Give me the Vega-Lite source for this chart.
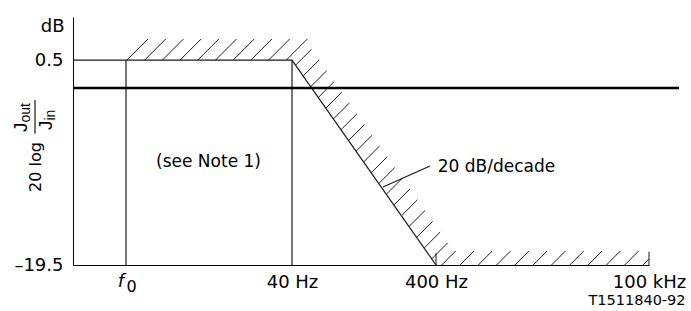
{
  "$schema": "https://vega.github.io/schema/vega-lite/v6.json",
  "width": 576,
  "height": 248,
  "autosize": {"type": "none"},
  "padding": {"left": 73, "top": 17, "right": 42, "bottom": 46},
  "background": "white",
  "config": {"view": {"stroke": null}, "axis": {"grid": false}},
  "encoding": {
    "x": {
      "field": "x", "type": "quantitative",
      "scale": {"domain": [0, 576], "nice": false, "zero": false},
      "axis": {
        "values": [53, 219, 363, 576],
        "labelExpr": "datum.value==219?'40 Hz':datum.value==363?'400 Hz':datum.value==576?'100 kHz':''",
        "ticks": false, "tickSize": 0, "labelPadding": 22, "labelBaseline": "alphabetic",
        "labelFont": "DejaVu Sans", "labelFontSize": 18, "labelColor": "black",
        "domainColor": "black", "domainWidth": 1, "labelFlush": false, "labelOverlap": false, "labelBound": false,
        "title": null, "grid": false
      }
    },
    "y": {
      "field": "y", "type": "quantitative",
      "scale": {"domain": [-19.5, 4.7], "nice": false, "zero": false},
      "axis": {
        "values": [0.5, -19.5],
        "labelExpr": "datum.value==0.5?'0.5':'–19.5'",
        "ticks": false, "tickSize": 0, "labelPadding": 10,
        "labelFont": "DejaVu Sans", "labelFontSize": 18, "labelColor": "black",
        "domainColor": "black", "domainWidth": 1, "labelOverlap": false, "labelBound": false, "labelFlush": false,
        "title": "dB", "titleAngle": 0, "titleAlign": "right", "titleBaseline": "alphabetic",
        "titleX": -9, "titleY": 14, "titleFont": "DejaVu Sans", "titleFontSize": 18,
        "titleFontWeight": "normal", "titleColor": "black", "grid": false
      }
    }
  },
  "layer": [
    {
      "data": {"values": [
        {"x": 0, "y": 0.5, "x2": 219, "y2": 0.5},
        {"x": 53, "y": 0.5, "x2": 53, "y2": -19.5},
        {"x": 219, "y": 0.5, "x2": 219, "y2": -19.5},
        {"x": 219, "y": 0.5, "x2": 363, "y2": -19.5},
        {"x": 357, "y": -9.84, "x2": 310, "y2": -11.89},
        {"x": -38, "y": -3.4, "x2": -38, "y2": -6.7}
      ]},
      "mark": {"type": "rule", "color": "#1a1a1a", "strokeWidth": 1.2},
      "encoding": {"x2": {"field": "x2"}, "y2": {"field": "y2"}}
    },
    {
      "data": {"values": [
        {"x": 0, "y": -2.23, "x2": 606, "y2": -2.23}
      ]},
      "mark": {"type": "rule", "color": "black", "strokeWidth": 2.6},
      "encoding": {"x2": {"field": "x2"}, "y2": {"field": "y2"}}
    },
    {
      "data": {"values": [
        {"x": 54, "y": 0.5, "x2": 75, "y2": 2.55},
        {"x": 71.7, "y": 0.5, "x2": 92.7, "y2": 2.55},
        {"x": 89.4, "y": 0.5, "x2": 110.4, "y2": 2.55},
        {"x": 107.1, "y": 0.5, "x2": 128.1, "y2": 2.55},
        {"x": 124.8, "y": 0.5, "x2": 145.8, "y2": 2.55},
        {"x": 142.5, "y": 0.5, "x2": 163.5, "y2": 2.55},
        {"x": 160.2, "y": 0.5, "x2": 181.2, "y2": 2.55},
        {"x": 177.9, "y": 0.5, "x2": 198.9, "y2": 2.55},
        {"x": 195.6, "y": 0.5, "x2": 216.6, "y2": 2.55},
        {"x": 213.3, "y": 0.5, "x2": 234.3, "y2": 2.55},
        {"x": 222.6, "y": 0, "x2": 238.6, "y2": 1.56},
        {"x": 230.2, "y": -1.05, "x2": 246.2, "y2": 0.51},
        {"x": 237.7, "y": -2.1, "x2": 253.7, "y2": -0.54},
        {"x": 245.3, "y": -3.15, "x2": 261.3, "y2": -1.59},
        {"x": 252.8, "y": -4.2, "x2": 268.8, "y2": -2.64},
        {"x": 260.4, "y": -5.25, "x2": 276.4, "y2": -3.69},
        {"x": 268.0, "y": -6.3, "x2": 284.0, "y2": -4.74},
        {"x": 275.5, "y": -7.35, "x2": 291.5, "y2": -5.79},
        {"x": 283.1, "y": -8.4, "x2": 299.1, "y2": -6.84},
        {"x": 290.6, "y": -9.45, "x2": 306.6, "y2": -7.89},
        {"x": 298.2, "y": -10.5, "x2": 314.2, "y2": -8.94},
        {"x": 305.8, "y": -11.55, "x2": 321.8, "y2": -9.99},
        {"x": 313.3, "y": -12.6, "x2": 329.3, "y2": -11.04},
        {"x": 320.9, "y": -13.65, "x2": 336.9, "y2": -12.09},
        {"x": 328.4, "y": -14.7, "x2": 344.4, "y2": -13.14},
        {"x": 336.0, "y": -15.75, "x2": 352.0, "y2": -14.19},
        {"x": 343.6, "y": -16.8, "x2": 359.6, "y2": -15.24},
        {"x": 351.1, "y": -17.85, "x2": 367.1, "y2": -16.29},
        {"x": 358.7, "y": -18.9, "x2": 374.7, "y2": -17.34},
        {"x": 363, "y": -19.5, "x2": 363, "y2": -18.33},
        {"x": 368.7, "y": -19.5, "x2": 382.7, "y2": -18.13},
        {"x": 387.0, "y": -19.5, "x2": 401.0, "y2": -18.13},
        {"x": 405.3, "y": -19.5, "x2": 419.3, "y2": -18.13},
        {"x": 423.6, "y": -19.5, "x2": 437.6, "y2": -18.13},
        {"x": 441.9, "y": -19.5, "x2": 455.9, "y2": -18.13},
        {"x": 460.2, "y": -19.5, "x2": 474.2, "y2": -18.13},
        {"x": 478.5, "y": -19.5, "x2": 492.5, "y2": -18.13},
        {"x": 496.8, "y": -19.5, "x2": 510.8, "y2": -18.13},
        {"x": 515.1, "y": -19.5, "x2": 529.1, "y2": -18.13},
        {"x": 533.4, "y": -19.5, "x2": 547.4, "y2": -18.13},
        {"x": 551.7, "y": -19.5, "x2": 565.7, "y2": -18.13},
        {"x": 570.0, "y": -19.5, "x2": 576.0, "y2": -18.91},
        {"x": 576, "y": -19.5, "x2": 576, "y2": -18.2}
      ]},
      "mark": {"type": "rule", "color": "#1a1a1a", "strokeWidth": 1},
      "encoding": {"x2": {"field": "x2"}, "y2": {"field": "y2"}}
    },
    {
      "data": {"values": [
        {"x": 135.5, "y": -9.91, "t": "(see Note 1)"},
        {"x": 423.5, "y": -10.43, "t": "20 dB/decade"}
      ]},
      "mark": {"type": "text", "font": "DejaVu Sans", "fontSize": 17, "color": "black", "align": "center", "baseline": "alphabetic"},
      "encoding": {"text": {"field": "t"}}
    },
    {
      "data": {"values": [
        {"x": 564, "y": -23.45, "t": "T1511840-92"}
      ]},
      "mark": {"type": "text", "font": "DejaVu Sans", "fontSize": 14.5, "color": "black", "align": "center", "baseline": "alphabetic"},
      "encoding": {"text": {"field": "t"}}
    },
    {
      "data": {"values": [
        {"x": 48, "y": -21.65, "t": "f"}
      ]},
      "mark": {"type": "text", "font": "DejaVu Sans", "fontSize": 18, "fontStyle": "italic", "color": "black", "align": "center", "baseline": "alphabetic"},
      "encoding": {"text": {"field": "t"}}
    },
    {
      "data": {"values": [
        {"x": 58.5, "y": -22.13, "t": "0"}
      ]},
      "mark": {"type": "text", "font": "DejaVu Sans", "fontSize": 16, "color": "black", "align": "center", "baseline": "alphabetic"},
      "encoding": {"text": {"field": "t"}}
    },
    {
      "data": {"values": [
        {"x": -37, "y": -9.94, "t": "20 log"}
      ]},
      "mark": {"type": "text", "font": "DejaVu Sans", "fontSize": 16, "color": "black", "align": "center", "baseline": "middle", "angle": 270},
      "encoding": {"text": {"field": "t"}}
    },
    {
      "data": {"values": [
        {"x": -46.4, "y": -6.52, "t": "J"},
        {"x": -21, "y": -6.33, "t": "J"}
      ]},
      "mark": {"type": "text", "font": "Liberation Sans", "fontSize": 19, "color": "black", "align": "left", "baseline": "alphabetic", "angle": 270},
      "encoding": {"text": {"field": "t"}}
    },
    {
      "data": {"values": [
        {"x": -43, "y": -5.6, "t": "out"},
        {"x": -18, "y": -5.4, "t": "in"}
      ]},
      "mark": {"type": "text", "font": "Liberation Sans", "fontSize": 14, "color": "black", "align": "left", "baseline": "alphabetic", "angle": 270},
      "encoding": {"text": {"field": "t"}}
    }
  ]
}
